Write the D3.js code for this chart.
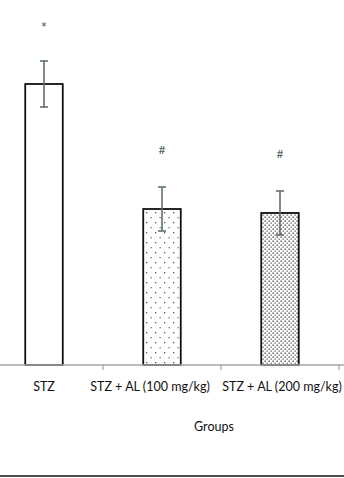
<!DOCTYPE html>
<html>
<head>
<meta charset="utf-8">
<script src="https://cdn.jsdelivr.net/npm/d3@7"></script>
<style>
  html, body { margin: 0; padding: 0; background: #fff; }
  svg { display: block; }
  text { font-family: "Lato", "Open Sans", sans-serif; }
</style>
</head>
<body>
<svg id="chart" width="344" height="478"></svg>
<script>
// Groups shown on the x axis
const groups = ["STZ", "STZ + AL (100 mg/kg)", "STZ + AL (200 mg/kg)"];
// Group means and standard errors
const means = [281, 156, 152];
const errors = [23, 22, 22];
// Significance markers drawn above each bar
const marks = ["*", "#", "#"];
// Fill style per group: plain, sparse dots, dense dots
const fills = ["plain", "sparse", "dense"];

const svg = d3.select("#chart");
const W = 344, H = 478;
const baseY = 365;

const pad = 0.682;
const x = d3.scaleBand()
  .domain(groups)
  .range([-15, 339])
  .paddingInner(pad)
  .paddingOuter(pad / 2);

const y = d3.scaleLinear().domain([0, 300]).range([baseY, baseY - 300]);

// Dot patterns
const defs = svg.append("defs");
const sparse = defs.append("pattern")
  .attr("id", "sparse").attr("patternUnits", "userSpaceOnUse")
  .attr("width", 9).attr("height", 10);
sparse.append("rect").attr("width", 9).attr("height", 10).attr("fill", "#fff");
sparse.append("rect").attr("x", 2).attr("y", 2).attr("width", 1.3).attr("height", 1.3).attr("fill", "#555");
sparse.append("rect").attr("x", 6.5).attr("y", 7).attr("width", 1.3).attr("height", 1.3).attr("fill", "#777");

const dense = defs.append("pattern")
  .attr("id", "dense").attr("patternUnits", "userSpaceOnUse")
  .attr("width", 4).attr("height", 4);
dense.append("rect").attr("width", 4).attr("height", 4).attr("fill", "#fff");
dense.append("rect").attr("x", 0.5).attr("y", 0.5).attr("width", 1.4).attr("height", 1.4).attr("fill", "#4a4a4a");
dense.append("rect").attr("x", 2.5).attr("y", 2.5).attr("width", 1.4).attr("height", 1.4).attr("fill", "#7a7a7a");

const fillOf = f => f === "sparse" ? "url(#sparse)" : f === "dense" ? "url(#dense)" : "#fff";

// Bars
svg.append("g").selectAll("rect")
  .data(groups)
  .join("rect")
  .attr("x", d => x(d))
  .attr("y", (d, i) => y(means[i]))
  .attr("width", x.bandwidth())
  .attr("height", (d, i) => y(0) - y(means[i]))
  .attr("fill", (d, i) => fillOf(fills[i]))
  .attr("stroke", "#111")
  .attr("stroke-width", 1.8);

// X axis line and tick marks at band boundaries
svg.append("line")
  .attr("x1", 0).attr("x2", W)
  .attr("y1", baseY).attr("y2", baseY)
  .attr("stroke", "#a3abab").attr("stroke-width", 1.3);

const bounds = groups.map(d => x(d) + x.bandwidth() + (x.step() - x.bandwidth()) / 2);
svg.append("g").selectAll("line")
  .data(bounds)
  .join("line")
  .attr("x1", d => d).attr("x2", d => d)
  .attr("y1", baseY).attr("y2", baseY + 5)
  .attr("stroke", "#a3abab").attr("stroke-width", 1.3);

// Error bars
const cx = d => x(d) + x.bandwidth() / 2;
const eb = svg.append("g").attr("stroke", "#5f6f72").attr("stroke-width", 1.6);
groups.forEach((d, i) => {
  const top = y(means[i] + errors[i]), bot = y(means[i] - errors[i]);
  eb.append("line").attr("x1", cx(d)).attr("x2", cx(d)).attr("y1", top).attr("y2", bot);
  eb.append("line").attr("x1", cx(d) - 4).attr("x2", cx(d) + 4).attr("y1", top).attr("y2", top);
  eb.append("line").attr("x1", cx(d) - 4).attr("x2", cx(d) + 4).attr("y1", bot).attr("y2", bot);
});

// Significance markers
svg.append("g").selectAll("text")
  .data(groups)
  .join("text")
  .attr("x", d => cx(d))
  .attr("y", (d, i) => y(means[i] + errors[i]) - (marks[i] === "*" ? 28 : 33))
  .attr("text-anchor", "middle")
  .attr("font-family", "'Open Sans', sans-serif")
  .attr("font-size", (d, i) => marks[i] === "*" ? 15 : 12)
  .attr("fill", "#4f5f62")
  .text((d, i) => marks[i]);

// Category labels
const labelShift = [0, -12, 2];
svg.append("g").selectAll("text")
  .data(groups)
  .join("text")
  .attr("x", (d, i) => cx(d) + labelShift[i])
  .attr("y", 391)
  .attr("text-anchor", "middle")
  .attr("font-size", 12.5)
  .attr("fill", "#111")
  .text(d => d);

// Axis title
svg.append("text")
  .attr("x", 214).attr("y", 431)
  .attr("text-anchor", "middle")
  .attr("font-size", 12.5)
  .attr("fill", "#111")
  .text("Groups");

// Bottom rule
svg.append("line")
  .attr("x1", 0).attr("x2", W)
  .attr("y1", 476).attr("y2", 476)
  .attr("stroke", "#111").attr("stroke-width", 1.6);
</script>
</body>
</html>
